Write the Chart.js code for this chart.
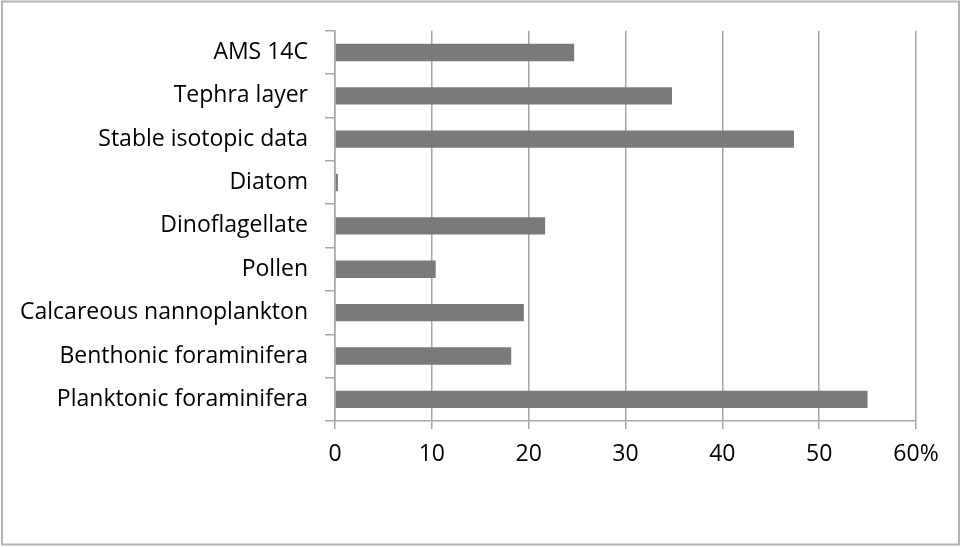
<!DOCTYPE html>
<html>
<head>
<meta charset="utf-8">
<script src="https://cdn.jsdelivr.net/npm/chart.js@4"></script>
<style>
	html, body { margin: 0; padding: 0; background: #fff; }
	#wrap { width: 961px; height: 547px; }
</style>
</head>
<body>
<div id="wrap"><canvas id="myChart" width="961" height="547"></canvas></div>
<script>
// categories, top to bottom
const categories = [
	'AMS 14C',
	'Tephra layer',
	'Stable isotopic data',
	'Diatom',
	'Dinoflagellate',
	'Pollen',
	'Calcareous nannoplankton',
	'Benthonic foraminifera',
	'Planktonic foraminifera',
];
const values = [24.7, 34.8, 47.4, 0.3, 21.7, 10.4, 19.5, 18.2, 55.0];
const xTicks = [0, 10, 20, 30, 40, 50, 60];

const gridColor = '#a6a6a6';
const barColor = '#7a7a7a';

// frame around the whole picture
const framePlugin = {
	id: 'frame',
	afterDraw(chart) {
		const ctx = chart.ctx;
		ctx.save();
		ctx.strokeStyle = '#b4b4b4';
		ctx.lineWidth = 2;
		ctx.strokeRect(2, 1.5, 957, 543);
		ctx.restore();
	}
};

const ctx = document.getElementById('myChart');

new Chart(ctx, {
	type: 'bar',
	data: {
		labels: categories,
		datasets: [{
			data: values,
			backgroundColor: barColor,
			borderWidth: 0,
			categoryPercentage: 1,
			barPercentage: 0.4,
		}],
	},
	options: {
		indexAxis: 'y',
		responsive: false,
		animation: false,
		layout: {
			padding: { left: 10, right: 45, top: 30, bottom: 10 },
		},
		plugins: {
			legend: { display: false },
			tooltip: { enabled: false },
		},
		scales: {
			x: {
				min: 0,
				max: 60,
				afterBuildTicks(scale) {
					scale.ticks = xTicks.map(v => ({ value: v }));
				},
				afterFit(scale) {
					scale.height = 547 - 421 - 10;
				},
				grid: {
					color: gridColor,
					lineWidth: 1.5,
					tickLength: 8,
					drawTicks: true,
				},
				border: { color: gridColor, width: 1.5 },
				ticks: {
					color: '#000',
					padding: 12,
					font: { family: 'Open Sans', size: 23 },
					callback: (v) => v === 60 ? '60%' : v,
				},
			},
			y: {
				afterFit(scale) {
					scale.width = 335 - 10;
				},
				grid: {
					offset: true,
					drawOnChartArea: false,
					color: gridColor,
					lineWidth: 1.5,
					tickLength: 10,
				},
				border: { color: gridColor, width: 1.5 },
				ticks: {
					color: '#000',
					padding: 17,
					font: { family: 'Open Sans', size: 23 },
				},
			},
		},
	},
	plugins: [framePlugin],
});
</script>
</body>
</html>
